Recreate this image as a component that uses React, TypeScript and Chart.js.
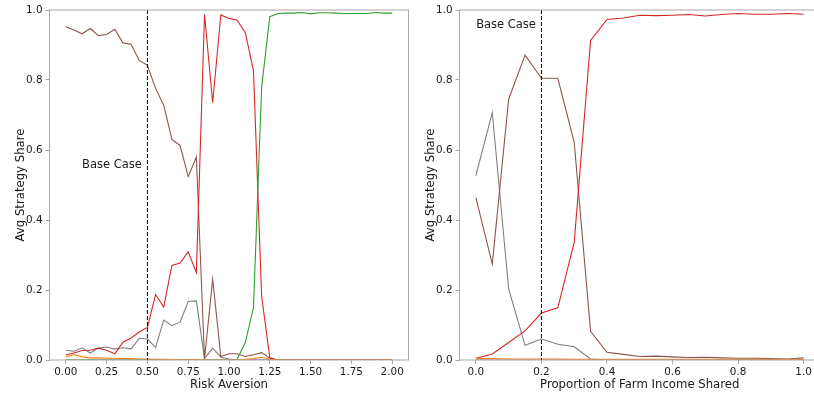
import React, { useEffect, useRef } from "react";
import { Chart, registerables } from "chart.js";

Chart.register(...registerables);

// ---------- Left panel: Risk Aversion ----------
const riskX = [0, 0.05, 0.1, 0.15, 0.2, 0.25, 0.3, 0.35, 0.4, 0.45, 0.5, 0.55, 0.6, 0.65, 0.7, 0.75, 0.8, 0.85, 0.9, 0.95, 1.0, 1.05, 1.1, 1.15, 1.2, 1.25, 1.3, 1.35, 1.4, 1.45, 1.5, 1.55, 1.6, 1.65, 1.7, 1.75, 1.8, 1.85, 1.9, 1.95, 2.0];
const riskOrange = [0.009, 0.015, 0.009, 0.006, 0.006, 0.005, 0.005, 0.004, 0.004, 0.003, 0.003, 0.002, 0.002, 0.001, 0.001, 0.001, 0.001, 0, 0, 0, 0, 0, 0.002, 0.004, 0.008, 0.002, 0, 0, 0, 0, 0, 0, 0, 0, 0, 0, 0, 0, 0, 0, 0];
const riskGreen = [0, 0, 0, 0, 0, 0, 0, 0, 0, 0, 0, 0, 0, 0, 0, 0, 0, 0, 0, 0, 0, 0.002, 0.05, 0.15, 0.779, 0.981, 0.99, 0.991, 0.991, 0.993, 0.989, 0.992, 0.992, 0.991, 0.99, 0.99, 0.99, 0.99, 0.993, 0.991, 0.991];
const riskRed = [0.015, 0.02, 0.027, 0.028, 0.034, 0.028, 0.018, 0.051, 0.063, 0.08, 0.093, 0.187, 0.151, 0.27, 0.277, 0.309, 0.25, 0.988, 0.735, 0.986, 0.976, 0.971, 0.935, 0.827, 0.182, 0.006, 0, 0, 0, 0, 0, 0, 0, 0, 0, 0, 0, 0, 0, 0, 0];
const riskPurple = [0, 0, 0, 0, 0, 0, 0, 0, 0, 0, 0, 0, 0, 0, 0, 0, 0, 0, 0, 0, 0, 0, 0, 0, 0, 0, 0, 0, 0, 0, 0, 0, 0, 0, 0, 0, 0, 0, 0, 0, 0];
const riskBrown = [0.952, 0.943, 0.932, 0.947, 0.927, 0.93, 0.945, 0.906, 0.902, 0.856, 0.842, 0.776, 0.728, 0.63, 0.613, 0.524, 0.58, 0.003, 0.231, 0.01, 0.018, 0.018, 0.01, 0.015, 0.021, 0.005, 0, 0, 0, 0, 0, 0, 0, 0, 0, 0, 0, 0, 0, 0, 0];
const riskGray = [0.028, 0.025, 0.035, 0.02, 0.034, 0.037, 0.031, 0.035, 0.032, 0.062, 0.06, 0.036, 0.114, 0.098, 0.108, 0.167, 0.169, 0.004, 0.034, 0.008, 0.003, 0, 0, 0, 0, 0, 0, 0, 0, 0, 0, 0, 0, 0, 0, 0, 0, 0, 0, 0, 0];
const riskTicks = [0, 0.25, 0.5, 0.75, 1.0, 1.25, 1.5, 1.75, 2.0];
const riskBase = 0.5;
const riskBaseLabelY = 0.56;

// ---------- Right panel: Proportion of Farm Income Shared ----------
const shareX = [0, 0.05, 0.1, 0.15, 0.2, 0.25, 0.3, 0.35, 0.4, 0.45, 0.5, 0.55, 0.6, 0.65, 0.7, 0.75, 0.8, 0.85, 0.9, 0.95, 1.0];
const shareOrange = [0.004, 0.004, 0.003, 0.003, 0.003, 0.003, 0.002, 0.002, 0.002, 0.002, 0.002, 0.002, 0.002, 0.002, 0.002, 0.002, 0.002, 0.002, 0.002, 0.002, 0.002];
const shareRed = [0.005, 0.017, 0.05, 0.083, 0.134, 0.149, 0.336, 0.913, 0.973, 0.977, 0.985, 0.984, 0.985, 0.987, 0.983, 0.987, 0.99, 0.988, 0.988, 0.99, 0.988];
const sharePurple = [0, 0, 0, 0, 0, 0, 0, 0, 0, 0, 0, 0, 0, 0, 0, 0, 0, 0, 0, 0, 0];
const shareBrown = [0.464, 0.274, 0.745, 0.871, 0.805, 0.805, 0.622, 0.082, 0.022, 0.016, 0.01, 0.011, 0.009, 0.007, 0.008, 0.006, 0.005, 0.005, 0.004, 0.003, 0.006];
const shareGray = [0.527, 0.707, 0.203, 0.042, 0.06, 0.045, 0.038, 0.003, 0, 0, 0, 0, 0, 0, 0, 0, 0, 0, 0, 0, 0];
const shareTicks = [0, 0.2, 0.4, 0.6, 0.8, 1.0];
const shareBase = 0.2;
const shareBaseLabelY = 0.96;

const yTicks = [0, 0.2, 0.4, 0.6, 0.8, 1.0];

const COLORS = {
  orange: "#ff7f0e",
  green: "#2ca02c",
  red: "#d62728",
  purple: "#9467bd",
  brown: "#8c564b",
  gray: "#7f7f7f",
};

const FONT = "DejaVu Sans";
const TEXT = "#1a1a1a";
const SPINE = "#a8a8a8";

type Series = { color: string; values: number[] };

function makeConfig(
  xs: number[],
  series: Series[],
  xTicks: number[],
  xMin: number,
  xMax: number,
  decimals: number,
  xTitle: string,
  baseX: number,
  baseLabelY: number,
  rightPad: number
): any {
  const datasets = series.map((s) => ({
    data: xs.map((x, i) => ({ x, y: s.values[i] })),
    borderColor: s.color,
    backgroundColor: s.color,
    borderWidth: 1.1,
    pointRadius: 0,
    tension: 0,
    fill: false,
  }));

  const overlay = {
    id: "overlay",
    afterDatasetsDraw(chart: any) {
      const ctx = chart.ctx;
      const { left, right, top, bottom } = chart.chartArea;
      const xs = chart.scales.x;
      const ys = chart.scales.y;
      ctx.save();
      const bx = xs.getPixelForValue(baseX);
      ctx.strokeStyle = "#000";
      ctx.lineWidth = 1;
      ctx.setLineDash([4, 2]);
      ctx.beginPath();
      ctx.moveTo(bx, top);
      ctx.lineTo(bx, bottom);
      ctx.stroke();
      ctx.setLineDash([]);
      ctx.fillStyle = TEXT;
      ctx.font = `11.5px "${FONT}"`;
      ctx.textAlign = "right";
      ctx.textBaseline = "middle";
      ctx.fillText("Base Case", bx - 5.5, ys.getPixelForValue(baseLabelY) + 1);
      ctx.strokeStyle = SPINE;
      ctx.lineWidth = 1;
      ctx.strokeRect(left, top, right - left, bottom - top);
      ctx.restore();
    },
  };

  return {
    type: "line",
    data: { datasets },
    plugins: [overlay],
    options: {
      animation: false,
      responsive: false,
      devicePixelRatio: 1,
      layout: { padding: { top: 10, right: rightPad, left: 0, bottom: 0 } },
      plugins: { legend: { display: false }, tooltip: { enabled: false } },
      scales: {
        x: {
          type: "linear",
          min: xMin,
          max: xMax,
          afterBuildTicks: (scale: any) => {
            scale.ticks = xTicks.map((v) => ({ value: v }));
          },
          afterFit: (scale: any) => {
            scale.height = 34;
          },
          ticks: {
            callback: (v: number) => Number(v).toFixed(decimals),
            font: { family: FONT, size: 10.4 },
            color: TEXT,
            padding: 2.5,
            maxRotation: 0,
            autoSkip: false,
          },
          grid: {
            display: true,
            drawOnChartArea: false,
            drawTicks: true,
            tickLength: 4,
            color: SPINE,
          },
          border: { display: false },
          title: {
            display: true,
            text: xTitle,
            font: { family: FONT, size: 11.7 },
            color: TEXT,
            padding: { top: 0, bottom: 2.5 },
          },
        },
        y: {
          type: "linear",
          min: 0,
          max: 1,
          afterBuildTicks: (scale: any) => {
            scale.ticks = yTicks.map((v) => ({ value: v }));
          },
          afterFit: (scale: any) => {
            scale.width = 49.5;
          },
          ticks: {
            callback: (v: number) => Number(v).toFixed(1),
            font: { family: FONT, size: 10.4 },
            color: TEXT,
            padding: 3,
          },
          grid: {
            display: true,
            drawOnChartArea: false,
            drawTicks: true,
            tickLength: 4,
            color: SPINE,
          },
          border: { display: false },
          title: {
            display: true,
            text: "Avg Strategy Share",
            font: { family: FONT, size: 11.7 },
            color: TEXT,
            padding: { top: 14, bottom: 0 },
          },
        },
      },
    },
  };
}

function Panel({ cfg, left, width }: { cfg: any; left: number; width: number }) {
  const ref = useRef<HTMLCanvasElement | null>(null);
  useEffect(() => {
    if (!ref.current) return;
    const chart = new Chart(ref.current, cfg);
    return () => chart.destroy();
  }, [cfg]);
  return (
    <div style={{ position: "absolute", left, top: 0, width, height: 394 }}>
      <canvas ref={ref} width={width} height={394} style={{ display: "block" }} />
    </div>
  );
}

const leftCfg = makeConfig(
  riskX,
  [
    { color: COLORS.orange, values: riskOrange },
    { color: COLORS.green, values: riskGreen },
    { color: COLORS.red, values: riskRed },
    { color: COLORS.purple, values: riskPurple },
    { color: COLORS.brown, values: riskBrown },
    { color: COLORS.gray, values: riskGray },
  ],
  riskTicks,
  -0.1,
  2.1,
  2,
  "Risk Aversion",
  riskBase,
  riskBaseLabelY,
  1.5
);

const rightCfg = makeConfig(
  shareX,
  [
    { color: COLORS.orange, values: shareOrange },
    { color: COLORS.red, values: shareRed },
    { color: COLORS.purple, values: sharePurple },
    { color: COLORS.brown, values: shareBrown },
    { color: COLORS.gray, values: shareGray },
  ],
  shareTicks,
  -0.05,
  1.05,
  1,
  "Proportion of Farm Income Shared",
  shareBase,
  shareBaseLabelY,
  0
);

export default function App() {
  return (
    <div
      style={{
        position: "fixed",
        left: 0,
        top: 0,
        width: 814,
        height: 394,
        overflow: "hidden",
        background: "#fff",
      }}
    >
      <Panel cfg={leftCfg} left={0} width={410} />
      <Panel cfg={rightCfg} left={410} width={410} />
    </div>
  );
}
